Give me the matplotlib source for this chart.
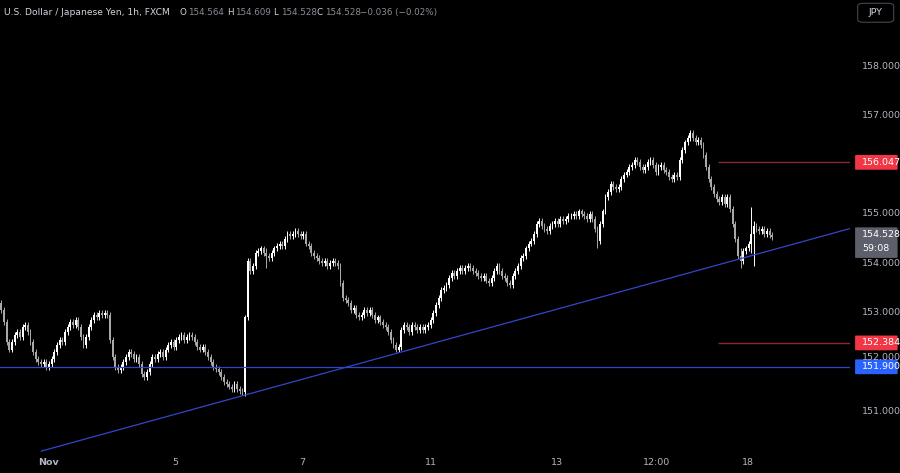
import matplotlib
matplotlib.use('Agg')
import matplotlib.pyplot as plt
from matplotlib.patches import FancyBboxPatch

# hourly closes, USD/JPY
closes = [
    153.05, 152.8, 152.4, 152.25, 152.4, 152.55, 152.6, 152.5, 152.7, 152.75,
    152.6, 152.4, 152.2, 152.05, 152.0, 151.95, 152.0, 151.9, 151.95, 152.05,
    152.2, 152.35, 152.45, 152.4, 152.6, 152.7, 152.8, 152.75, 152.85, 152.7, 152.5,
    152.35, 152.5, 152.7, 152.85, 152.95, 152.9, 153.0, 152.95, 153.0, 152.95,
    152.45, 152.1, 151.9, 151.83, 151.9, 152.0, 152.1, 152.2, 152.15, 152.05, 152.1,
    151.95, 151.75, 151.7, 151.8, 151.95, 152.1, 152.05, 152.15, 152.2, 152.1,
    152.25, 152.35, 152.4, 152.3, 152.45, 152.5, 152.55, 152.45, 152.5, 152.55, 152.5,
    152.4, 152.3, 152.25, 152.3, 152.2, 152.1, 152.0, 151.9, 151.85,
    151.8, 151.7, 151.6, 151.55, 151.5, 151.45, 151.55, 151.45, 151.4, 151.38,
    152.9, 154.05, 153.85, 153.95, 154.2, 154.25, 154.3, 154.2, 154.15, 154.1,
    154.2, 154.3, 154.35, 154.4, 154.35, 154.5, 154.6, 154.55, 154.6, 154.65,
    154.6, 154.55, 154.6, 154.4, 154.35, 154.2, 154.15, 154.1, 154.05, 154.0,
    154.05, 153.95, 154.0, 154.05, 154.0, 153.95, 153.6, 153.3, 153.25, 153.2,
    153.05, 153.1, 152.95, 152.9, 152.95, 153.05, 153.0, 153.05, 152.95, 152.85,
    152.9, 152.8, 152.75, 152.7, 152.6, 152.45, 152.35, 152.25, 152.3, 152.65,
    152.75, 152.7, 152.6, 152.75, 152.7, 152.65, 152.7, 152.65, 152.7, 152.75,
    152.85, 153.0, 153.15, 153.3, 153.45, 153.5, 153.55, 153.7, 153.8, 153.75,
    153.85, 153.9, 153.85, 153.9, 153.95, 153.9, 153.85, 153.8, 153.75, 153.7,
    153.75, 153.65, 153.6, 153.7, 153.85, 153.95, 153.85, 153.75, 153.7, 153.6,
    153.55, 153.75, 153.85, 153.95, 154.1, 154.15, 154.3, 154.4, 154.45, 154.6,
    154.8, 154.85, 154.75, 154.7, 154.65, 154.75, 154.8, 154.85, 154.8, 154.9,
    154.85, 154.9, 154.95, 154.95, 155.0, 154.95, 155.05, 155.0, 154.95, 154.9,
    155.0, 154.9, 154.7, 154.45, 154.8, 155.05, 155.35, 155.45, 155.6, 155.55,
    155.5, 155.55, 155.7, 155.8, 155.85, 155.95, 156.0, 156.1, 156.05, 155.95,
    155.9, 155.95, 156.05, 156.1, 156.0, 155.85, 155.95, 156.0, 155.9, 155.85,
    155.75, 155.7, 155.8, 155.75, 156.1, 156.3, 156.45, 156.55, 156.65, 156.55,
    156.45, 156.5, 156.4, 156.2, 155.95, 155.7, 155.55, 155.4, 155.3, 155.25,
    155.35, 155.2, 155.35, 155.1, 154.8, 154.5, 154.15, 154.05, 154.25, 154.3,
    154.4, 154.6, 154.75, 154.7, 154.65, 154.7, 154.6, 154.65, 154.58, 154.528,
]
first_open = 153.2
# a few bars with long wicks: index -> (high, low)
spikes = {92: (152.95, 151.3), 225: (154.75, 154.3), 279: (154.3, 153.9),
          283: (155.15, 154.2), 284: (154.85, 153.95), 100: (154.3, 153.9)}

tick_pos = [17.7, 65.7, 113.6, 162.3, 209.8, 247.2, 281.9]
tick_labels = ['Nov', '5', '7', '11', '13', '12:00', '18']
y_ticks = [151.0, 153.0, 154.0, 155.0, 157.0, 158.0]

resistance = 156.047
support = 152.384
flat_level = 151.900
last_price = 154.528
trend_k = [15.1, 320.7]
trend_p = [150.19, 154.71]

bg = '#000000'
fs = 6.8
fig = plt.figure(figsize=(9, 4.73), dpi=100, facecolor=bg)
ax = fig.add_axes([0, 0.038, 850 / 900, 0.962])
ax.set_facecolor(bg)
ax.set_xlim(-0.5, 320.3)
ax.set_ylim(150.11, 159.34)

opens = [first_open] + closes[:-1]
for i, (o, c) in enumerate(zip(opens, closes)):
    hi = max(o, c) + 0.06
    lo = min(o, c) - 0.06
    if i in spikes:
        hi, lo = spikes[i]
    col = '#ffffff' if c >= o else '#a8a8a8'
    ax.vlines(i, lo, hi, color=col, lw=0.7)
    ax.bar(i, max(abs(c - o), 0.015), bottom=min(o, c), width=0.7, color=col, lw=0)

ax.axhline(flat_level, color='#3346c8', lw=0.9)
ax.plot(trend_k, trend_p, color='#3346c8', lw=0.9)
ax.hlines([resistance, support], 270.5, 320.3, color='#8a2a2a', lw=1.0)

for s in ax.spines.values():
    s.set_visible(False)
ax.set_xticks(tick_pos)
ax.set_xticklabels(tick_labels, color='#b2b5be', fontsize=fs)
ax.get_xticklabels()[0].set_fontweight('bold')
ax.tick_params(axis='x', length=0, pad=2)
ax.set_yticks([])

trans = ax.get_yaxis_transform()
lx = 1.0145
for yv in y_ticks:
    ax.text(lx, yv, f'{yv:.3f}', transform=trans, color='#b2b5be',
            fontsize=fs, va='center', ha='left', clip_on=False)
ax.text(lx, 152.09, '152.000', transform=trans, color='#b2b5be',
        fontsize=fs, va='center', ha='left', clip_on=False)

def price_box(y, text, fc, h=0.3):
    ax.add_patch(FancyBboxPatch((1.006, y - h / 2), 0.05, h, transform=trans,
                                boxstyle='round,pad=0,rounding_size=0.004',
                                fc=fc, ec='none', clip_on=False))
    ax.text(lx, y, text, transform=trans, color='white', fontsize=fs,
            va='center', ha='left', clip_on=False)

price_box(resistance, '156.047', '#f23645')
price_box(support, '152.384', '#f23645')
price_box(flat_level, '151.900', '#2962ff')
ax.add_patch(FancyBboxPatch((1.006, last_price - 0.42), 0.05, 0.62, transform=trans,
                            boxstyle='round,pad=0,rounding_size=0.004',
                            fc='#5d606b', ec='none', clip_on=False))
ax.text(lx, last_price + 0.05, '154.528', transform=trans, color='white',
        fontsize=fs, va='center', ha='left', clip_on=False)
ax.text(lx, last_price - 0.23, '59:08', transform=trans, color='white',
        fontsize=fs, va='center', ha='left', clip_on=False)

# header
hy = 0.974
hfs = 6.3
fig.text(0.005, hy, 'U.S. Dollar / Japanese Yen, 1h, FXCM', color='#d1d4dc',
         fontsize=6.6, va='center')
hdr = [('O', '154.564', 0.199), ('H', '154.609', 0.252), ('L', '154.528', 0.303),
       ('C', '154.528', 0.352)]
for lab, val, xx in hdr:
    fig.text(xx, hy, lab, color='#d1d4dc', fontsize=hfs, va='center')
    fig.text(xx + 0.0095, hy, val, color='#8a8d96', fontsize=hfs, va='center')
fig.text(0.4, hy, '\u22120.036 (\u22120.02%)', color='#8a8d96', fontsize=hfs, va='center')

fig.patches.append(FancyBboxPatch((0.953, 0.953), 0.04, 0.04, transform=fig.transFigure,
                                  boxstyle='round,pad=0,rounding_size=0.006',
                                  fc=bg, ec='#434651', lw=0.8))
fig.text(0.973, 0.973, 'JPY', color='#d1d4dc', fontsize=fs, ha='center', va='center')

fig.savefig('out.png', dpi=100, facecolor=bg)
